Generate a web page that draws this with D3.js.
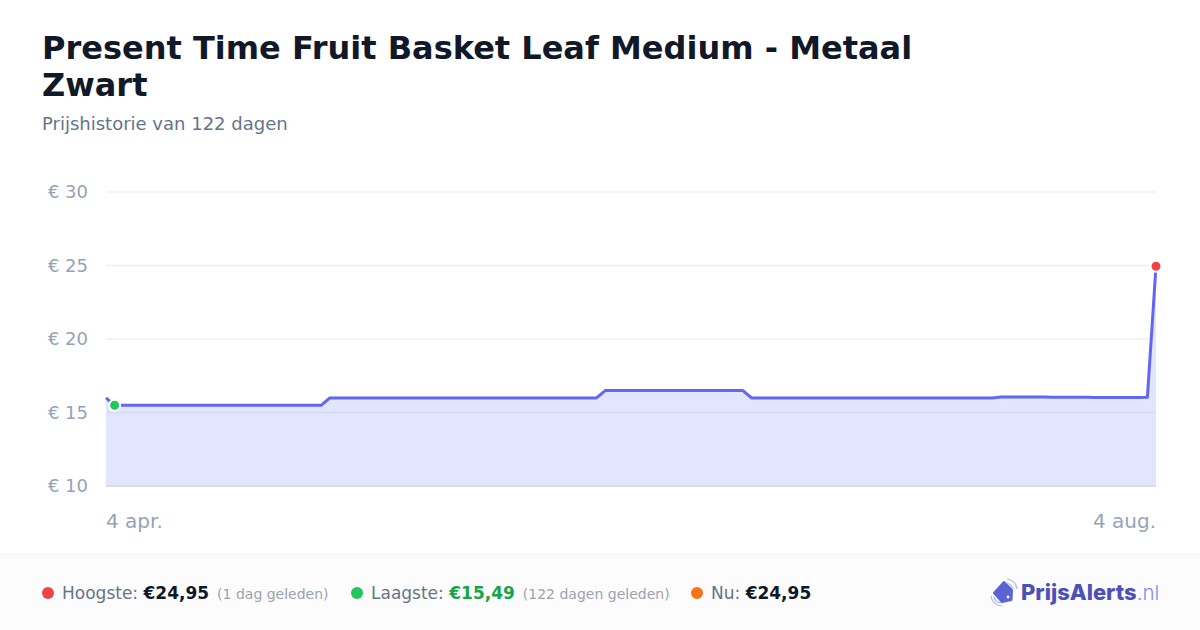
<!DOCTYPE html>
<html><head><meta charset="utf-8">
<script src="https://cdnjs.cloudflare.com/ajax/libs/d3/7.8.5/d3.min.js"></script>
<style>html,body{margin:0;padding:0;background:#fff}svg{display:block}text{font-family:"DejaVu Sans",sans-serif}</style>
</head><body><svg id="c" width="1200" height="630"></svg>
<script>
const titleLines = ["Present Time Fruit Basket Leaf Medium - Metaal", "Zwart"];
const subtitle = "Prijshistorie van 122 dagen";
const yTicks = [10, 15, 20, 25, 30];
const xTickIndex = [0, 122];
const xTickLabels = ["4 apr.", "4 aug."];
const prices = [
 15.99,
 15.49,15.49,15.49,15.49,15.49,15.49,15.49,15.49,15.49,15.49,15.49,15.49,15.49,15.49,15.49,15.49,15.49,15.49,15.49,15.49,15.49,15.49,15.49,15.49,15.49,
 15.99,15.99,15.99,15.99,15.99,15.99,15.99,15.99,15.99,15.99,15.99,15.99,15.99,15.99,15.99,15.99,15.99,15.99,15.99,15.99,15.99,15.99,15.99,15.99,15.99,15.99,15.99,15.99,15.99,15.99,15.99,15.99,
 16.49,16.49,16.49,16.49,16.49,16.49,16.49,16.49,16.49,16.49,16.49,16.49,16.49,16.49,16.49,16.49,16.49,
 15.99,15.99,15.99,15.99,15.99,15.99,15.99,15.99,15.99,15.99,15.99,15.99,15.99,15.99,15.99,15.99,15.99,15.99,15.99,15.99,15.99,15.99,15.99,15.99,15.99,15.99,15.99,15.99,15.99,
 16.05,16.05,16.05,16.05,16.05,16.05,16.04,16.04,16.04,16.04,16.04,16.02,16.02,16.02,16.02,16.02,16.02,16.03,
 24.95
];
const lowIndex = 1, highIndex = 122;
const stats = [
 {dot:"#ef4444", x:48, label:"Hoogste:", value:"€24,95", valueColor:"#0f172a", note:"(1 dag geleden)"},
 {dot:"#22c55e", x:357, label:"Laagste:", value:"€15,49", valueColor:"#16a34a", note:"(122 dagen geleden)"},
 {dot:"#f97316", x:697, label:"Nu:", value:"€24,95", valueColor:"#0f172a", note:""}
];

const svg = d3.select("#c");
const x = d3.scaleLinear().domain([0, 122]).range([106, 1156]);
const y = d3.scaleLinear().domain([10, 30]).range([486, 192]);

titleLines.forEach((t,i)=>svg.append("text").attr("x",42).attr("y",59+i*37)
  .attr("font-size",32).attr("font-weight",700).attr("fill","#111827").text(t));
svg.append("text").attr("x",42).attr("y",130).attr("font-size",18).attr("fill","#64748b").text(subtitle);

svg.append("path").datum(prices)
  .attr("d", d3.area().x((d,i)=>x(i)).y0(y(10)).y1(d=>y(d)))
  .attr("fill","#e1e6fe");

const yAxis = svg.append("g").attr("transform","translate(106,0)")
  .call(d3.axisLeft(y).offset(0).tickValues(yTicks).tickSize(-1050).tickPadding(18).tickFormat(d=>"€ "+d));
yAxis.select(".domain").remove();
yAxis.selectAll("line")
  .attr("stroke",d=>d===10?"#d9dce6":(d===15?"#d6daf4":"#eeeff1"))
  .attr("stroke-width",d=>d===10?2:1.5);
yAxis.selectAll("text").attr("font-size",18).attr("fill","#94a3b8").attr("font-family","DejaVu Sans")
  .attr("transform","translate(0,0.5)");

const xAxis = svg.append("g").attr("transform","translate(0,486)")
  .call(d3.axisBottom(x).offset(0).tickValues(xTickIndex).tickSize(0).tickPadding(28).tickFormat((d,i)=>xTickLabels[i]));
xAxis.select(".domain").remove();
xAxis.selectAll("text").attr("font-size",20).attr("fill","#94a3b8").attr("font-family","DejaVu Sans")
  .attr("text-anchor",(d,i)=>i===0?"start":"end");

svg.append("path").datum(prices)
  .attr("d", d3.line().x((d,i)=>x(i)).y(d=>y(d)))
  .attr("fill","none").attr("stroke","#6366f1").attr("stroke-width",3).attr("stroke-linejoin","round");

svg.append("circle").attr("cx",x(lowIndex)).attr("cy",y(prices[lowIndex])).attr("r",5.5).attr("fill","#22c55e").attr("stroke","#fff").attr("stroke-width",2);
svg.append("circle").attr("cx",x(highIndex)).attr("cy",y(prices[highIndex])).attr("r",5.5).attr("fill","#ef4444").attr("stroke","#fff").attr("stroke-width",2);

svg.append("rect").attr("x",0).attr("y",554).attr("width",1200).attr("height",76).attr("fill","#fcfcfc");
svg.append("line").attr("x1",0).attr("x2",1200).attr("y1",554.5).attr("y2",554.5).attr("stroke","#f3f4f6");
stats.forEach(s=>{
  svg.append("circle").attr("cx",s.x).attr("cy",593).attr("r",6).attr("fill",s.dot);
  const t = svg.append("text").attr("x",s.x+14).attr("y",599).attr("font-size",17);
  t.append("tspan").attr("fill","#64748b").text(s.label+" ");
  t.append("tspan").attr("fill",s.valueColor).attr("font-weight",700).text(s.value);
  if(s.note) t.append("tspan").attr("fill","#9ca3af").attr("font-size",14).attr("dx",8).text(s.note);
});

const logo = svg.append("g");
logo.append("path").attr("d","M1004 582 L1012 590 L1011.5 600 L1002 602 L994 593 Z").attr("fill","#5b63d3").attr("stroke","#5b63d3").attr("stroke-width",2).attr("stroke-linejoin","round");
logo.append("circle").attr("cx",1008).attr("cy",597).attr("r",1.4).attr("fill","#fff");
logo.append("path").attr("d","M1007 579 A11 11 0 0 1 1017 589 M1006 583 A8 8 0 0 1 1013 590 M1002 606 A11 11 0 0 1 991 596 M1001 603 A8 8 0 0 1 994 597").attr("fill","none").attr("stroke","#a5b8fc").attr("stroke-width",1.2);
const lt = logo.append("text").attr("x",1021).attr("y",600).attr("font-size",22).style("font-family","Inter, Roboto, sans-serif");
lt.append("tspan").attr("font-weight",800).attr("fill","#4b51b8").text("PrijsAlerts");
lt.append("tspan").attr("font-weight",300).attr("font-size",20.5).attr("fill","#818cf8").text(".nl");
</script></body></html>
